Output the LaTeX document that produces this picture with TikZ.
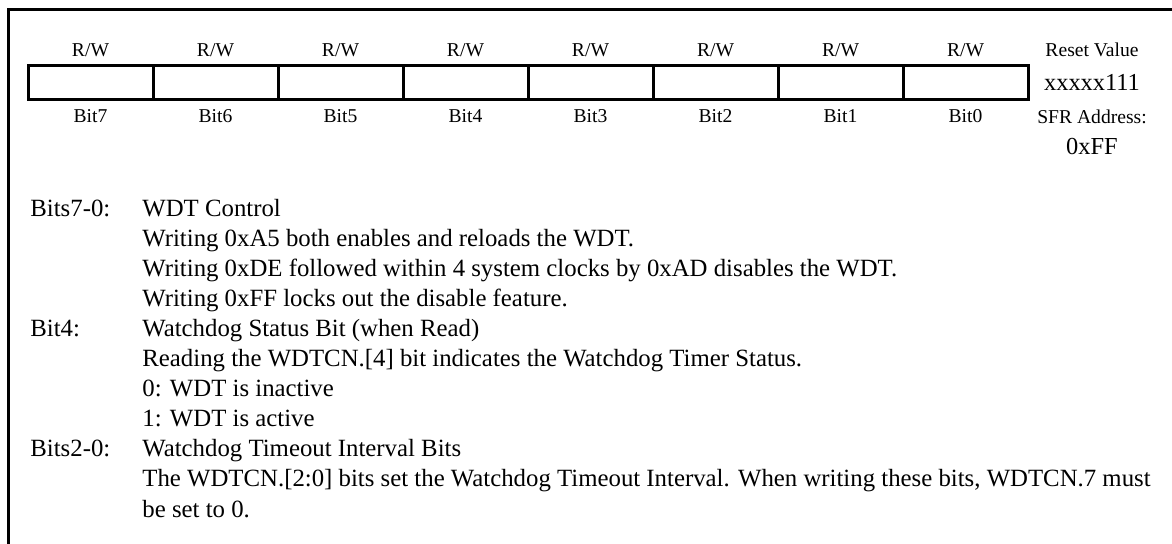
\documentclass[tikz,border=0pt]{standalone}
\usepackage{fontspec}
\setmainfont{Liberation Serif}
\usetikzlibrary{positioning}

\tikzset{
  lbl/.style={font=\fontsize{9.8}{11}\selectfont, inner sep=0pt},
  val/.style={font=\fontsize{12.2}{14}\selectfont, inner sep=0pt},
  body/.style={anchor=west, font=\fontsize{12.4}{14}\selectfont, inner sep=0pt, text height=8.5pt, text depth=2.5pt},
  cell/.style={draw, line width=1.5pt, minimum width=62.5pt, minimum height=17pt, inner sep=0pt},
}

\begin{document}
\begin{tikzpicture}[x=0.5pt, y=-0.5pt]
\useasboundingbox (0,0) rectangle (1172,544);
% frame, open at right and bottom
\draw [line width=1.5pt] (8,544) -- (8,10) -- (1172,10);
% register cells, Bit7 at the left
\foreach \b in {0,...,7} {
    \node [cell] (cell\b) at ({965.5-125*\b}, 83) {};
    \node [lbl] (rw\b) at ({965.5-125*\b}, 50) {R/W};
    \node [lbl] (bit\b) at ({965.5-125*\b}, 116) {Bit\b};
}
\node [lbl] (reset) at (1092,50) {Reset Value};
\node [val] (resetval) at (1092,82) {xxxxx111};
\node [lbl] (sfr) at (1092,117) {SFR Address:};
\node [val] (sfrval) at (1092,147) {0xFF};
% bit descriptions, one line every 30
\node [body] (f70) at (30,211) {Bits7-0:};
\node [body] (d70) at (142,211) {WDT Control};
\node [body] (d70a) at (142,241) {Writing 0xA5 both enables and reloads the WDT.};
\node [body] (d70b) at (142,271) {Writing 0xDE followed within 4 system clocks by 0xAD disables the WDT.};
\node [body] (d70c) at (142,301) {Writing 0xFF locks out the disable feature.};
\node [body] (f4) at (30,331) {Bit4:};
\node [body] (d4) at (142,331) {Watchdog Status Bit (when Read)};
\node [body] (d4a) at (142,361) {Reading the WDTCN.[4] bit indicates the Watchdog Timer Status.};
\node [body] (d4b) at (142,391) {0: WDT is inactive};
\node [body] (d4c) at (142,421) {1: WDT is active};
\node [body] (f20) at (30,451) {Bits2-0:};
\node [body] (d20) at (142,451) {Watchdog Timeout Interval Bits};
\node [body] (d20a) at (142,481) {The WDTCN.[2:0] bits set the Watchdog Timeout Interval. When writing these bits, WDTCN.7 must};
\node [body] (d20b) at (142,511) {be set to 0.};
\end{tikzpicture}
\end{document}
